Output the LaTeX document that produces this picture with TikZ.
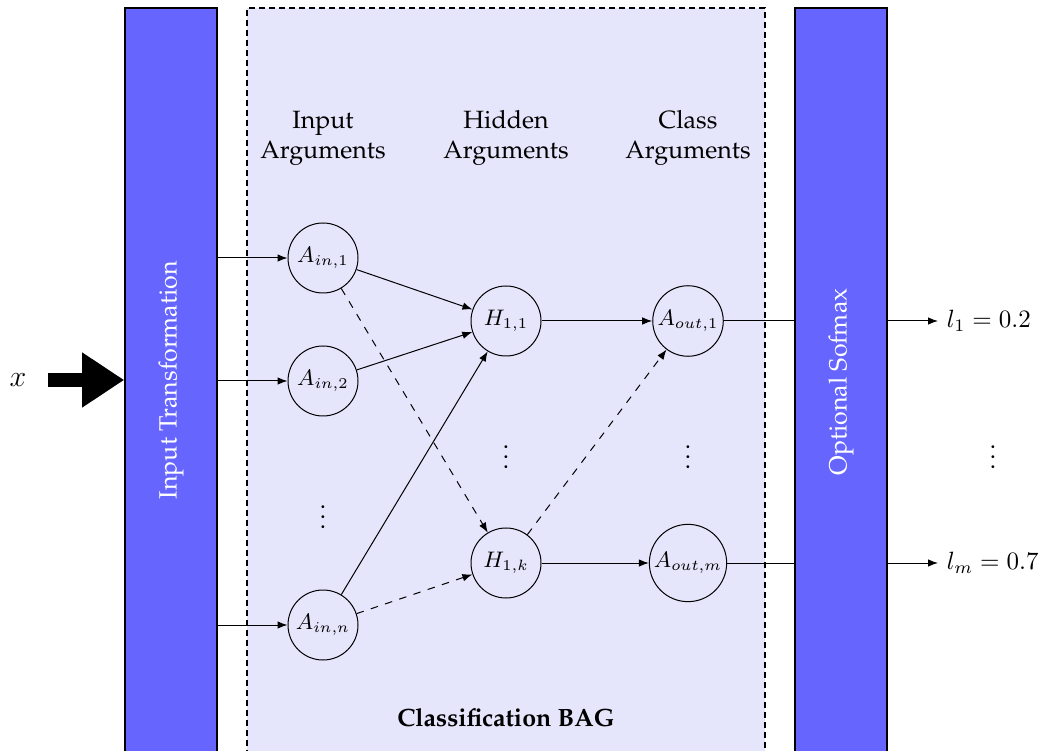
\documentclass[tikz,border=0pt]{standalone}
\usepackage[T1]{fontenc}
\usepackage{palatino}
\usetikzlibrary{arrows.meta}
\definecolor{barblue}{RGB}{102,102,255}
\definecolor{baglav}{RGB}{229,229,251}

\begin{document}
\begin{tikzpicture}[x=0.4pt,y=-0.4pt,
  bar/.style={draw=black, line width=0.6pt, fill=barblue, minimum width=36.8pt,
              minimum height=300.8pt, inner sep=0pt},
  barlabel/.style={rotate=90, text=white},
  bagbox/.style={draw=black, fill=baglav, line width=0.7pt, dash pattern=on 2.4pt off 1.6pt,
              minimum width=207.2pt, minimum height=300.8pt, inner sep=0pt},
  arg/.style={circle, draw, line width=0.4pt, minimum size=28pt, inner sep=1pt, font=\small},
  head/.style={align=center},
  link/.style={-{Latex[length=4pt,width=3pt]}, line width=0.4pt},
  weak/.style={link, dashed},
]
\useasboundingbox (0,0) rectangle (1039,751);
\clip (0,0) rectangle (1039,751);

% blocks
\node[bar] (inbar) at (171,384) {};
\node[barlabel] (inlab) at (171,380) {Input Transformation};
\node[bagbox] (bag) at (506,384) {};
\node[bar] (outbar) at (841,384) {};
\node[barlabel] (outlab) at (841,382) {Optional Sofmax};

% column headers
\node[head] (hin)  at (323,138) {Input\\Arguments};
\node[head] (hhid) at (506,138) {Hidden\\Arguments};
\node[head] (hcls) at (688,138) {Class\\Arguments};
\node (bagname) at (506,718) {\bfseries Classification BAG};

% argument nodes
\node[arg] (ain1) at (323,258) {$A_{in,1}$};
\node[arg] (ain2) at (323,381) {$A_{in,2}$};
\node (dotsin) at (323,510) {$\vdots$};
\node[arg] (ainn) at (323,625) {$A_{in,n}$};

\node[arg] (h11) at (506,321) {$H_{1,1}$};
\node (dotsh) at (506,450) {$\vdots$};
\node[arg] (h1k) at (506,563) {$H_{1,k}$};

\node[arg] (aout1) at (688,321) {$A_{out,1}$};
\node (dotsout) at (688,450) {$\vdots$};
\node[arg] (aoutm) at (688,563) {$A_{out,m}$};

% input and outputs
\node (xin) at (18,380) {\large $x$};
\node[anchor=west] (l1) at (938,321) {$l_1 = 0.2$};
\node (dotsl) at (993,450) {$\vdots$};
\node[anchor=west] (lm) at (938,563) {$l_m = 0.7$};

\draw[line width=5.6pt, -{Triangle[length=16.8pt,width=20.8pt]}, shorten <=5pt]
  (xin.east) -- (inbar.west |- xin.east);

% from the transformation into the BAG
\draw[link] (inbar.east |- ain1) -- (ain1);
\draw[link] (inbar.east |- ain2) -- (ain2);
\draw[link] (inbar.east |- ainn) -- (ainn);

% inside the BAG
\draw[link] (ain1) -- (h11);
\draw[link] (ain2) -- (h11);
\draw[link] (ainn) -- (h11);
\draw[weak] (ain1) -- (h1k);
\draw[weak] (ainn) -- (h1k);
\draw[link] (h11) -- (aout1);
\draw[link] (h1k) -- (aoutm);
\draw[weak] (h1k) -- (aout1);

% out through the softmax
\draw[line width=0.4pt] (aout1) -- (outbar.west |- aout1);
\draw[line width=0.4pt] (aoutm) -- (outbar.west |- aoutm);
\draw[link] (outbar.east |- l1) -- (l1);
\draw[link] (outbar.east |- lm) -- (lm);
\end{tikzpicture}
\end{document}
